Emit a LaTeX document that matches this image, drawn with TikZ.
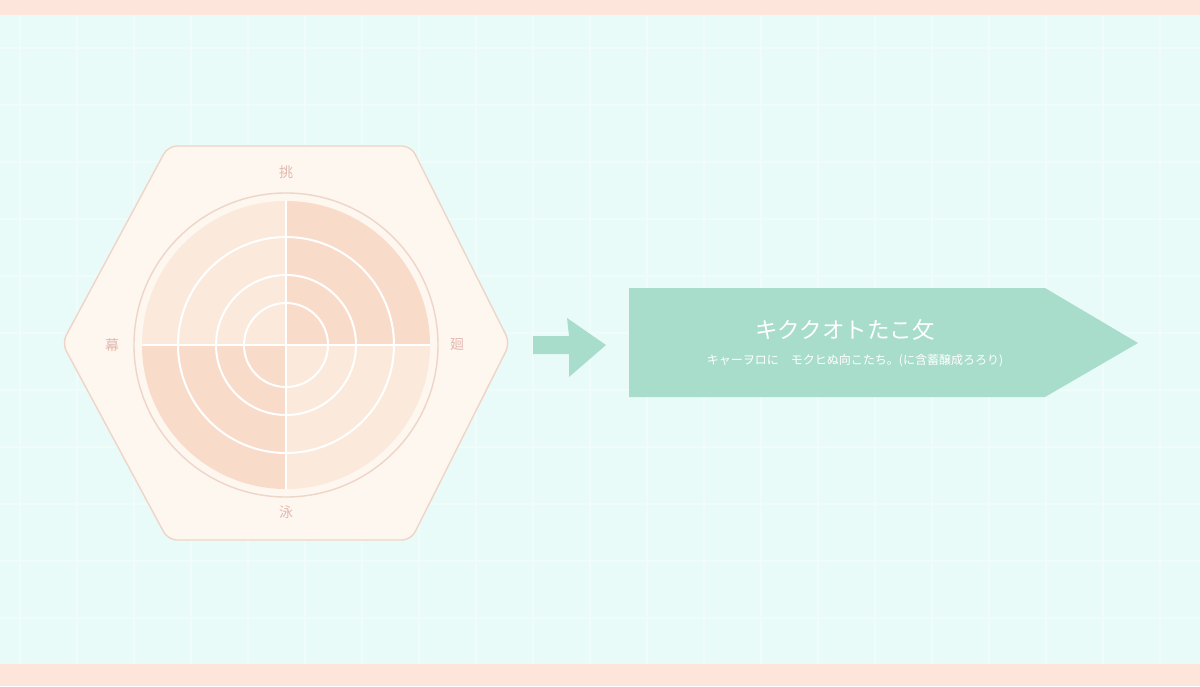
\documentclass[tikz,border=0pt]{standalone}
\usepackage{fontspec}
\newfontfamily\cjk{Noto Sans CJK JP}
\usetikzlibrary{calc}
\definecolor{bgcyan}{HTML}{E9FBF8}
\definecolor{bandpeach}{HTML}{FDE5DB}
\definecolor{hexfill}{HTML}{FDF7EF}
\definecolor{hexline}{HTML}{EFD4C8}
\definecolor{peachlt}{HTML}{FBEADB}
\definecolor{peachdk}{HTML}{F9DBC9}
\definecolor{lblpink}{HTML}{E2B8B0}
\definecolor{mint}{HTML}{A9DDCB}

\begin{document}
\begin{tikzpicture}[
  x=1pt,y=-1pt,
  gridln/.style={draw=white!30!bgcyan,line width=1.6pt},
  hexbox/.style={draw=hexline,fill=hexfill,line width=1.4pt,rounded corners=9pt},
  ring/.style={draw=white,line width=2pt},
  lbl/.style={font=\cjk\fontsize{14}{14}\selectfont,text=lblpink,inner sep=0pt},
  ttl/.style={font=\cjk\fontsize{22.5}{23}\selectfont,text=white,inner sep=0pt},
  subttl/.style={font=\cjk\fontsize{12}{12}\selectfont,text=white,inner sep=0pt}
]
\useasboundingbox (0,0) rectangle (1200,686);
\fill[bgcyan] (0,0) rectangle (1200,686);
\foreach \gx in {20,77,...,1200}
  \draw[gridln] (\gx,15) -- (\gx,664);
\foreach \gy in {48,105,...,660}
  \draw[gridln] (0,\gy) -- (1200,\gy);
\fill[bandpeach] (0,0) rectangle (1200,15);
\fill[bandpeach] (0,664) rectangle (1200,686);

% hexagon with target
\draw[hexbox] (62,343) -- (168,146) -- (411,146) -- (510,343) -- (411,540) -- (168,540) -- cycle;
\coordinate (ctr) at (286,345);
\draw[hexline,line width=1.4pt] (ctr) circle[radius=152];
\fill[peachdk] (ctr) -- ++(0:144) arc[start angle=0,end angle=-90,radius=144] -- cycle;
\fill[peachlt] (ctr) -- ++(-90:144) arc[start angle=-90,end angle=-180,radius=144] -- cycle;
\fill[peachdk] (ctr) -- ++(180:144) arc[start angle=180,end angle=90,radius=144] -- cycle;
\fill[peachlt] (ctr) -- ++(90:144) arc[start angle=90,end angle=0,radius=144] -- cycle;
\foreach \r in {108,70,42}
  \draw[ring] (ctr) circle[radius=\r];
\draw[ring] ($(ctr)+(-144,0)$) -- ($(ctr)+(144,0)$);
\draw[ring] ($(ctr)+(0,-144)$) -- ($(ctr)+(0,144)$);

\node[lbl] (lblN) at (286,172) {挑};
\node[lbl] (lblW) at (112,345) {幕};
\node[lbl] (lblE) at (457,345) {廻};
\node[lbl] (lblS) at (286,512) {泳};

% arrow
\fill[mint] (533,336) -- (569,336) -- (567,318) -- (606,345) -- (569,377) -- (569,354) -- (533,354) -- cycle;

% result banner
\fill[mint] (629,288) -- (1045,288) -- (1138,343) -- (1045,397) -- (629,397) -- cycle;
\node[ttl] (title) at (845,330) {キククオトたこ攵};
\node[subttl] (subtitle) at (855,361) {キャーヲロに　モクヒぬ向こたち。(に含蓄醸成ろろり)};
\end{tikzpicture}
\end{document}
